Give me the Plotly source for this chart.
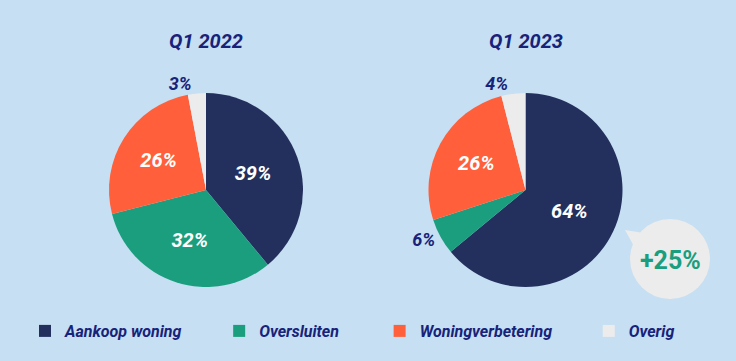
import plotly.graph_objects as go

categories = ["Aankoop woning", "Oversluiten", "Woningverbetering", "Overig"]
values_2022 = [39, 32, 26, 3]
values_2023 = [64, 6, 26, 4]
titles = ["Q1 2022", "Q1 2023"]
bubble_text = "+25%"

colors = ["#23305e", "#1a9e7e", "#ff5f3a", "#ececec"]
bg = "#c6dff2"
ink = "#17237a"
FONT = "Roboto"

W, H = 736, 361
R = 97  # px radius

# trailing spacing after each legend entry (number of no-break spaces)
legend_pad = [8, 9, 8, 0]

def dom(cx, cy, r):
    return dict(x=[(cx - r) / W, (cx + r) / W], y=[1 - (cy + r) / H, 1 - (cy - r) / H])

def pos_list(vals):
    return ["outside" if v < 10 else "inside" for v in vals]

def font_colors(vals):
    return [ink if v < 10 else "white" for v in vals]

labels = [f"<b><i>{c}</i></b>" + "&nbsp;" * p for c, p in zip(categories, legend_pad)]

fig = go.Figure()
centers = [(206, 190), (525.5, 190)]
for i, vals in enumerate([values_2022, values_2023]):
    fig.add_trace(go.Pie(
        labels=labels, values=vals, sort=False,
        direction="clockwise", rotation=0,
        marker=dict(colors=colors, line=dict(width=0)),
        texttemplate="<b><i>%{value}%</i></b>",
        textposition=pos_list(vals),
        textfont=dict(family=FONT, size=[18 if v < 10 else 20 for v in vals], color=font_colors(vals)),
        insidetextorientation="horizontal",
        domain=dom(centers[i][0], centers[i][1], R),
        showlegend=(i == 0), hoverinfo="value",
    ))

annotations = []
for (cx, cy), t in zip(centers, titles):
    annotations.append(dict(text=f"<b><i>{t}</i></b>", x=cx / W, y=1 - 41 / H, xref="paper", yref="paper",
                            xanchor="center", yanchor="middle",
                            showarrow=False, font=dict(family=FONT, size=20, color=ink)))

# speech bubble
bx, by, br = 670, 259, 40
shapes = [
    dict(type="path", xref="paper", yref="paper",
         path=f"M {625/W} {1-230/H} L {644/W} {1-233/H} L {635/W} {1-248/H} Z",
         fillcolor="#ececec", line=dict(width=0)),
    dict(type="circle", xref="paper", yref="paper",
         x0=(bx - br) / W, x1=(bx + br) / W, y0=1 - (by + br) / H, y1=1 - (by - br) / H,
         fillcolor="#ececec", line=dict(width=0)),
]
annotations.append(dict(text=f"<b>{bubble_text}</b>", x=bx / W, y=1 - (by + 1) / H, xref="paper", yref="paper",
                        xanchor="center", yanchor="middle",
                        showarrow=False, font=dict(family=FONT, size=25, color="#1a9e7e")))

fig.update_layout(
    width=W, height=H, margin=dict(l=0, r=0, t=0, b=0),
    paper_bgcolor=bg, plot_bgcolor=bg,
    annotations=annotations, shapes=shapes,
    legend=dict(orientation="h", x=25 / W, xanchor="left", y=1 - 331 / H, yanchor="middle",
                font=dict(family=FONT, size=16, color=ink), itemwidth=30,
                bgcolor="rgba(0,0,0,0)", traceorder="normal"),
)

fig.write_html("out.html", config={"displayModeBar": False},
               post_script="document.body.style.margin='0';document.body.style.overflow='hidden';")
